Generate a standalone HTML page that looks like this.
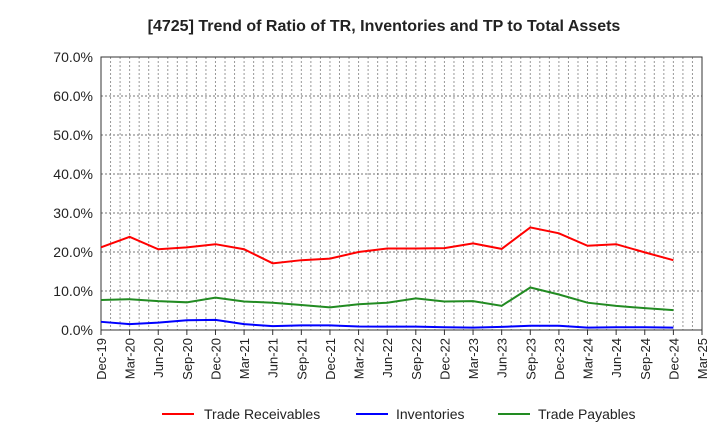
<!DOCTYPE html>
<html><head><meta charset="utf-8"><style>
body{margin:0;background:#fff;width:720px;height:440px;overflow:hidden;font-family:"Liberation Sans",sans-serif}
</style></head><body>
<svg id="c" width="720" height="440" xmlns="http://www.w3.org/2000/svg">
<text x="384" y="31" text-anchor="middle" font-size="16" font-weight="bold" fill="#222">[4725]  Trend of Ratio of TR, Inventories and TP to Total Assets</text>
<g id="grid"></g><g id="axes"></g><g id="series"></g>
<g font-size="14" fill="#222">
<g><line x1="162" y1="414" x2="194" y2="414" stroke="#f00" stroke-width="2"/><text x="204" y="419">Trade Receivables</text></g>
<g><line x1="356" y1="414" x2="388" y2="414" stroke="#00f" stroke-width="2"/><text x="396" y="419">Inventories</text></g>
<g><line x1="498" y1="414" x2="530" y2="414" stroke="#228b22" stroke-width="2"/><text x="538" y="419">Trade Payables</text></g>
</g>
</svg>
<script>
const categories=["Dec-19","Mar-20","Jun-20","Sep-20","Dec-20","Mar-21","Jun-21","Sep-21","Dec-21","Mar-22","Jun-22","Sep-22","Dec-22","Mar-23","Jun-23","Sep-23","Dec-23","Mar-24","Jun-24","Sep-24","Dec-24","Mar-25"];
const tradeReceivables=[21.2,23.9,20.7,21.2,22.0,20.7,17.1,17.9,18.3,20.0,20.9,20.9,21.0,22.2,20.8,26.3,24.8,21.6,22.0,19.9,17.9];
const inventories=[2.1,1.5,1.9,2.5,2.6,1.5,1.0,1.2,1.2,0.9,0.85,0.85,0.7,0.6,0.8,1.1,1.1,0.6,0.7,0.7,0.6];
const tradePayables=[7.7,7.9,7.4,7.1,8.3,7.3,7.0,6.4,5.8,6.6,7.0,8.1,7.3,7.4,6.2,10.9,9.1,7.0,6.2,5.6,5.1];
const yTicks=[0,10,20,30,40,50,60,70];
const L=101,R=702,T=57,B=330,NS="http://www.w3.org/2000/svg";
const xs=i=>L+i*(R-L)/(categories.length-1);
const ys=v=>B-v*(B-T)/70;
function mk(p,t,a){const e=document.createElementNS(NS,t);for(const k in a)e.setAttribute(k,a[k]);p.appendChild(e);return e;}
const grid=document.getElementById('grid'),axes=document.getElementById('axes'),ser=document.getElementById('series');
for(let m=1;m<(categories.length-1)*3;m++){const x=L+m*(R-L)/((categories.length-1)*3);
const l=mk(grid,'line',{x1:x,x2:x,y1:T,y2:B,stroke:'#999','stroke-dasharray':'2,2','stroke-width':1});

}
yTicks.forEach(v=>{const y=ys(v);
if(v>0){const g=mk(grid,'line',{x1:L,x2:R,y1:y,y2:y,stroke:'#777','stroke-dasharray':'2,2'});

}
const t=mk(axes,'text',{x:L-8,y:y+5,'text-anchor':'end','font-size':14,fill:'#222'});t.textContent=v.toFixed(1)+'%';

});
const fr=mk(axes,'rect',{x:L,y:T,width:R-L,height:B-T,fill:'none',stroke:'#333'});


categories.forEach((c,i)=>{const x=xs(i);
mk(axes,'line',{x1:x,x2:x,y1:B,y2:B+5,stroke:'#333'});
const t=mk(axes,'text',{transform:`translate(${x+5},${B+8}) rotate(-90)`,'text-anchor':'end','font-size':13,fill:'#222'});t.textContent=c;

});
[[tradeReceivables,'#f00','trade-receivables-line'],[inventories,'#00f','inventories-line'],[tradePayables,'#228b22','trade-payables-line']].forEach(([d,c,n])=>{
const p=mk(ser,'polyline',{points:d.map((v,i)=>xs(i)+','+ys(v)).join(' '),fill:'none',stroke:c,'stroke-width':2});

});
</script>
</body></html>
